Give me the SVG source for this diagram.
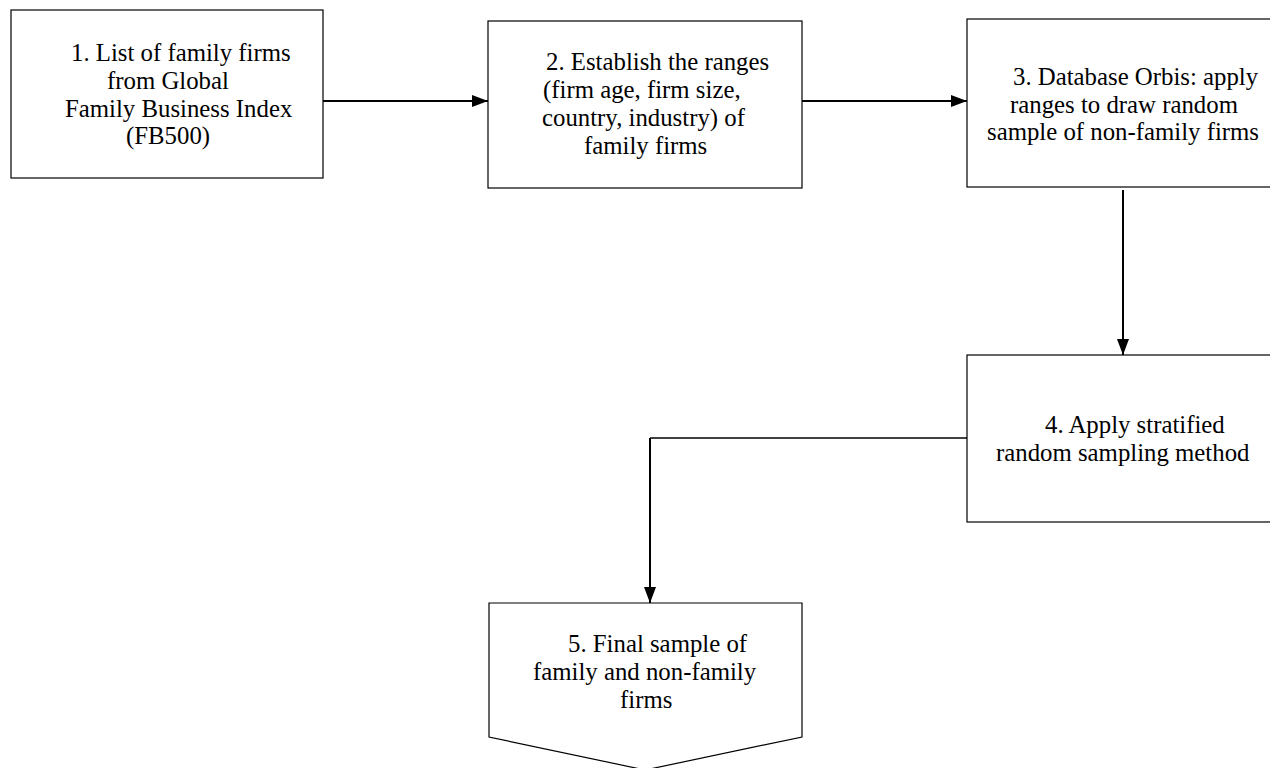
<svg xmlns="http://www.w3.org/2000/svg" width="1270" height="768" viewBox="0 0 1270 768">
<style>
.box{fill:#fff;stroke:#000;stroke-width:1.2}
.t{font-family:"Liberation Serif","Times New Roman",serif;font-size:24.8px;fill:#000}
.c{fill:none;stroke:#000;stroke-width:2}
.thin{fill:none;stroke:#000;stroke-width:1.3}
</style>
<defs>
<marker id="ah" markerWidth="8" markerHeight="6" refX="8" refY="3" orient="auto" markerUnits="strokeWidth">
<path d="M0,0 L8,3 L0,6 Z" fill="#000"/>
</marker>
</defs>
<rect width="1270" height="768" fill="#fff"/>
<g id="connectors">
<path class="c" d="M323,101 H488" marker-end="url(#ah)"/>
<path class="c" d="M802,101 H967" marker-end="url(#ah)"/>
<path class="c" d="M1123,190 V355" marker-end="url(#ah)"/>
<path class="thin" d="M967,438 H650"/>
<path class="c" d="M650,438 V603" marker-end="url(#ah)"/>
</g>
<g id="n1">
<rect class="box" x="11" y="10" width="312" height="168"/>
<text class="t" x="71" y="61">1. List of family firms</text>
<text class="t" x="107" y="89">from Global</text>
<text class="t" x="65" y="117">Family Business Index</text>
<text class="t" x="126" y="144">(FB500)</text>
</g>
<g id="n2">
<rect class="box" x="488" y="21" width="314" height="167"/>
<text class="t" x="546" y="70">2. Establish the ranges</text>
<text class="t" x="543" y="98">(firm age, firm size,</text>
<text class="t" x="542" y="126">country, industry) of</text>
<text class="t" x="584" y="154">family firms</text>
</g>
<g id="n3">
<rect class="box" x="967" y="19" width="310" height="168"/>
<text class="t" x="1013" y="85">3. Database Orbis: apply</text>
<text class="t" x="1010" y="113">ranges to draw random</text>
<text class="t" x="987" y="140">sample of non-family firms</text>
</g>
<g id="n4">
<rect class="box" x="967" y="355" width="310" height="167"/>
<text class="t" x="1045" y="433">4. Apply stratified</text>
<text class="t" x="996" y="461">random sampling method</text>
</g>
<g id="n5">
<path class="box" d="M489,603 H802 V737 L645,770 L489,737 Z"/>
<text class="t" x="568" y="652">5. Final sample of</text>
<text class="t" x="533" y="680">family and non-family</text>
<text class="t" x="620" y="708">firms</text>
</g>
</svg>
